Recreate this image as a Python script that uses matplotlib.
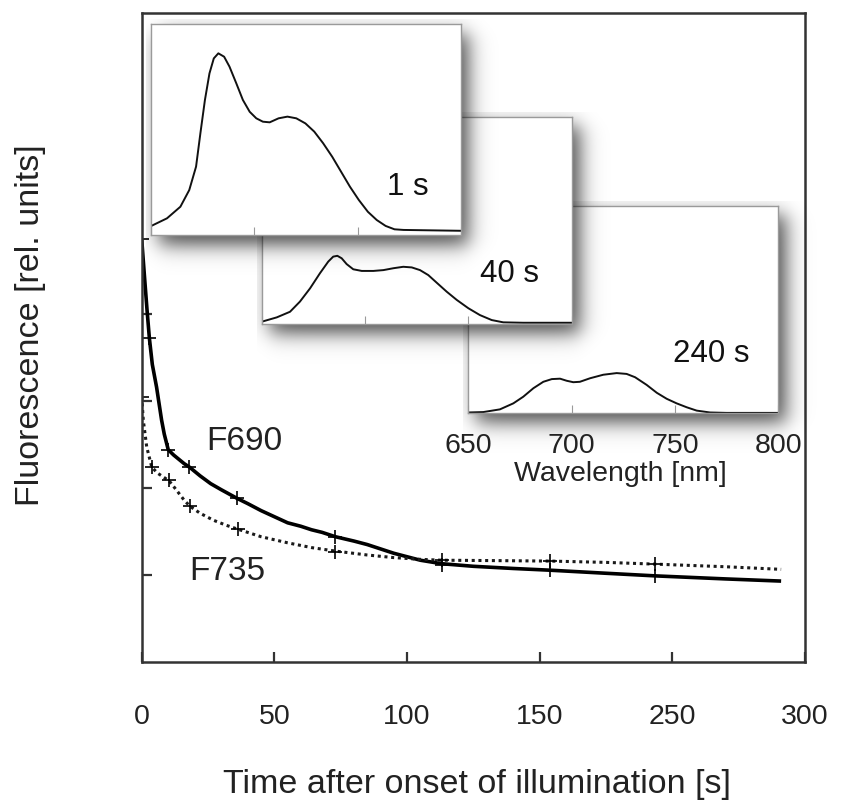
import numpy as np
import matplotlib
matplotlib.use("Agg")
import matplotlib.pyplot as plt

# ---- data ----
# main panel: time [s] (axis units) and fluorescence [rel. units]
t_f690_pts = [0, 2.9, 10, 18, 36, 73, 113, 154, 193.5]
f690_pts = [4.86, 3.72, 2.44, 2.24, 1.88, 1.44, 1.12, 1.055, 0.985]
t_f735_pts = [0, 3.8, 10.4, 18.2, 36.4, 73, 113, 154, 193.5]
f735_pts = [3.05, 2.24, 2.09, 1.79, 1.525, 1.27, 1.17, 1.16, 1.125]

t_f690_line = [0, 1, 2, 2.9, 4, 5.6, 7.5, 8.5, 10, 12, 14, 16, 18, 22, 26, 30,
               36, 40, 45, 50, 55, 60, 64, 68, 73, 80, 85, 90, 95, 100, 105,
               113, 125, 140, 154, 175, 193.5, 220, 241]
f690_line = [4.86, 4.45, 4.05, 3.72, 3.42, 3.16, 2.78, 2.62, 2.44, 2.38, 2.33,
             2.28, 2.24, 2.14, 2.05, 1.98, 1.88, 1.82, 1.74, 1.67, 1.60, 1.56,
             1.52, 1.49, 1.44, 1.39, 1.35, 1.30, 1.25, 1.21, 1.17, 1.13, 1.10,
             1.075, 1.055, 1.02, 0.99, 0.955, 0.93]
t_f735_line = [0, 0.6, 1.9, 3.8, 6, 8, 10.4, 13, 16, 18.2, 22, 27, 32, 36.4, 45,
               55, 64, 73, 85, 95, 105, 113, 135, 154, 175, 193.5, 220, 241]
f735_line = [3.05, 2.78, 2.47, 2.24, 2.17, 2.13, 2.08, 1.98, 1.86, 1.79, 1.71,
             1.63, 1.57, 1.525, 1.44, 1.37, 1.315, 1.275, 1.23, 1.20, 1.18,
             1.17, 1.165, 1.16, 1.145, 1.125, 1.095, 1.065]

time_ticks = [0, 50, 100, 150, 200, 250]
time_labels = ["0", "50", "100", "150", "250", "300"]

# inset spectra: wavelength [nm] and relative intensity
wl_1s = [650, 657.6, 664.1, 668.4, 671.7, 673.8, 676.0, 678.2, 680.3, 682.5,
         685.3, 687.9, 691.2, 694.4, 697.7, 700.9, 704.1, 707.4, 711.7, 716.0,
         720.3, 724.7, 729.0, 733.3, 737.7, 742.0, 746.3, 750.6, 755.0, 759.3,
         763.6, 767.9, 772.3, 800]
spec_1s = [0.043, 0.079, 0.134, 0.213, 0.324, 0.482, 0.640, 0.766, 0.837, 0.861,
           0.845, 0.798, 0.719, 0.640, 0.584, 0.553, 0.537, 0.534, 0.553, 0.561,
           0.553, 0.529, 0.490, 0.435, 0.371, 0.300, 0.229, 0.166, 0.110, 0.071,
           0.043, 0.027, 0.024, 0.020]
wl_40s = [650, 657.3, 663.7, 668.5, 673.4, 678.2, 682.2, 684.6, 686.6, 688.7,
          691.1, 694.3, 698.4, 704.0, 708.9, 713.7, 718.5, 722.6, 726.6, 730.6,
          734.7, 739.5, 744.4, 750.0, 755.6, 761.3, 766.9, 776.6, 800]
spec_40s = [0.011, 0.032, 0.059, 0.108, 0.172, 0.245, 0.301, 0.325, 0.329, 0.317,
            0.289, 0.264, 0.256, 0.256, 0.260, 0.269, 0.276, 0.273, 0.260, 0.236,
            0.199, 0.156, 0.116, 0.076, 0.043, 0.019, 0.008, 0.006, 0.006]
wl_240s = [650, 657.3, 665.3, 671.8, 676.6, 681.5, 686.3, 690.4, 694.4, 697.6,
           700.8, 704.0, 708.9, 715.3, 721.8, 726.6, 730.7, 736.3, 741.2, 746.0,
           750.8, 755.7, 760.5, 766.9, 775.0, 800]
spec_240s = [0.004, 0.006, 0.019, 0.048, 0.080, 0.121, 0.152, 0.165, 0.167, 0.157,
             0.150, 0.152, 0.169, 0.186, 0.194, 0.190, 0.174, 0.137, 0.099, 0.070,
             0.048, 0.029, 0.013, 0.004, 0.002, 0.002]
wl_ticks = [650, 700, 750, 800]

plt.rcParams['font.family'] = ['Liberation Sans', 'DejaVu Sans']

W, H = 841, 801
fig = plt.figure(figsize=(W / 100, H / 100), dpi=100)


def fx(px):
    return px / W


def fy(py):
    return 1 - py / H


def px_text(x, y, s, **kw):
    fig.text(fx(x), fy(y), s, **kw)


# ---- main panel ----
ax = fig.add_axes([fx(141.7), fy(662), (805 - 141.7) / W, (662 - 13) / H])
ax.set_zorder(0)
ax.plot(t_f690_line, f690_line, color='black', lw=2.6, solid_capstyle='butt')
ax.plot(t_f735_line, f735_line, color='#1a1a1a', lw=2.2, ls=(0, (1, 1.2)))
ax.plot(t_f690_pts, f690_pts, ls='none', marker='+', ms=10, mew=1.2, color='black')
ax.plot(t_f735_pts, f735_pts, ls='none', marker='+', ms=10, mew=1.2, color='black')
ax.set_xlim(0, 250)
ax.set_ylim(0, (662 - 13) / 87)
ax.set_xticks(time_ticks)
ax.set_xticklabels(time_labels)
ax.set_yticks([1, 2, 3, 4])
ax.set_yticklabels([])
ax.tick_params(direction='in', length=7.5, width=1.6, color='#333333')
ax.tick_params(axis='x', pad=30, labelsize=20.5, labelcolor='#222222')
for s in ax.spines.values():
    s.set_linewidth(1.8)
    s.set_color('#333333')

ax.text(24.2, (662 - 450) / 87, "F690", fontsize=24, color='#222222', va='baseline')
ax.text(17.8, (662 - 580) / 87, "F735", fontsize=24, color='#222222', va='baseline')

px_text(477, 785, "Time after onset of illumination [s]", fontsize=24.5,
        color='#222222', ha='center', va='center')
px_text(31, 325, "Fluorescence [rel. units]", fontsize=24.5, color='#222222',
        ha='center', va='center', rotation=90)


# ---- insets with soft drop shadows ----
def add_shadow(l, t, r, b, z, dx=8, dy=10, soft=6.0, strength=0.7):
    x0, x1 = l - 5, r + 40
    y0, y1 = t - 5, b + 40
    xs = np.arange(x0, x1) + 0.5
    ys = np.arange(y0, y1) + 0.5

    def step(d):
        return 1 / (1 + np.exp(-d / soft))

    mx = step(xs - (l + dx)) * step((r + dx) - xs)
    my = step(ys - (t + dy)) * step((b + dy) - ys)
    rgba = np.zeros((len(ys), len(xs), 4))
    rgba[..., 3] = strength * np.outer(my, mx)
    sa = fig.add_axes([fx(x0), fy(y1), (x1 - x0) / W, (y1 - y0) / H])
    sa.imshow(rgba, extent=(0, 1, 0, 1), aspect='auto', interpolation='bilinear')
    sa.set_axis_off()
    sa.patch.set_alpha(0)
    sa.set_zorder(z)


def add_inset(l, t, r, b, z, wl, spec, label, lx, ly, show_labels=False):
    add_shadow(l, t, r, b, z)
    ia = fig.add_axes([fx(l), fy(b), (r - l) / W, (b - t) / H])
    ia.set_zorder(z + 0.5)
    ia.set_facecolor('white')
    ia.plot(wl, spec, color='#111111', lw=1.4)
    ia.set_xlim(650, 800)
    ia.set_ylim(0, 1)
    ia.set_yticks([])
    ia.set_xticks(wl_ticks)
    ia.tick_params(direction='in', length=6, width=0.8, color='#9a9a9a')
    if show_labels:
        ia.tick_params(axis='x', pad=14, labelsize=20.5, labelcolor='#222222')
    else:
        ia.set_xticklabels([])
    for s in ia.spines.values():
        s.set_linewidth(1.0)
        s.set_color('#9a9a9a')
    ia.text(fx(lx), fy(ly), label, transform=fig.transFigure, fontsize=22.5,
            color='#111111', ha='center', va='center')
    return ia


add_inset(468.3, 206, 778.3, 413.3, 1, wl_240s, spec_240s, "240 s", 711, 354,
          show_labels=True)
px_text(620, 474, "Wavelength [nm]", fontsize=20.5, color='#222222',
        ha='center', va='center')
add_inset(261.7, 116.7, 571.7, 324, 3, wl_40s, spec_40s, "40 s", 510, 274)
add_inset(151.3, 24, 460.7, 235, 5, wl_1s, spec_1s, "1 s", 408, 187)

fig.savefig("out.png", dpi=100)
